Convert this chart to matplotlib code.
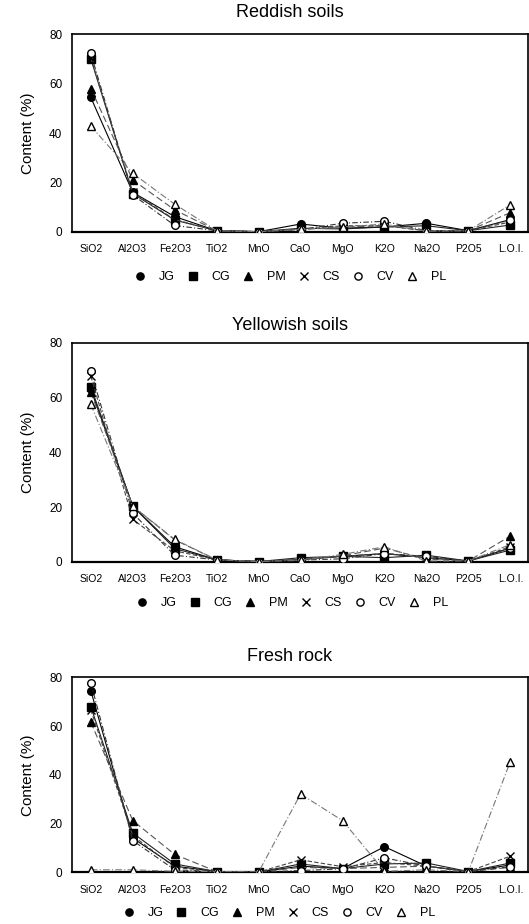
import matplotlib
matplotlib.use("Agg")
import matplotlib.pyplot as plt
from matplotlib.lines import Line2D

plt.rcParams['font.family'] = ['Liberation Sans', 'DejaVu Sans']

oxides = ["SiO2", "Al2O3", "Fe2O3", "TiO2", "MnO", "CaO", "MgO", "K2O", "Na2O", "P2O5", "L.O.I."]
series_names = ["JG", "CG", "PM", "CS", "CV", "PL"]
titles = ["Reddish soils", "Yellowish soils", "Fresh rock"]

# Reddish soils
red_JG = [54.4, 16.0, 6.2, 0.5, 0.1, 3.2, 1.5, 2.0, 3.5, 0.5, 5.0]
red_CG = [70.0, 15.5, 4.8, 0.5, 0.1, 1.5, 1.2, 2.0, 2.5, 0.5, 2.8]
red_PM = [58.0, 21.0, 8.9, 0.5, 0.1, 1.0, 2.0, 2.5, 0.5, 0.5, 7.8]
red_CS = [70.5, 16.0, 5.0, 0.5, 0.1, 1.0, 2.5, 2.5, 0.5, 0.5, 4.0]
red_CV = [72.2, 15.0, 2.6, 0.5, 0.1, 1.0, 3.5, 4.3, 0.5, 0.5, 4.8]
red_PL = [42.8, 23.7, 11.2, 0.5, 0.1, 1.0, 2.0, 3.2, 0.3, 0.5, 11.0]

# Yellowish soils
yel_JG = [63.0, 20.3, 5.5, 0.7, 0.1, 0.8, 2.0, 3.0, 1.5, 0.3, 5.0]
yel_CG = [64.0, 20.3, 4.8, 0.7, 0.1, 1.5, 2.0, 1.5, 2.4, 0.3, 4.3]
yel_PM = [62.0, 20.3, 8.0, 0.7, 0.1, 0.8, 2.2, 5.0, 1.0, 0.3, 9.4]
yel_CS = [67.8, 15.5, 4.0, 0.7, 0.1, 0.8, 2.0, 3.0, 1.5, 0.3, 5.5]
yel_CV = [69.7, 17.7, 2.4, 0.7, 0.1, 0.6, 1.1, 3.0, 2.0, 0.3, 5.0]
yel_PL = [57.5, 20.3, 8.2, 0.7, 0.1, 0.5, 2.7, 5.5, 0.3, 0.3, 6.3]

# Fresh rock
fr_JG = [74.5, 14.0, 2.5, 0.3, 0.1, 2.5, 1.5, 10.5, 2.5, 0.3, 3.0]
fr_CG = [68.0, 16.1, 3.4, 0.3, 0.1, 3.4, 1.5, 3.4, 3.8, 0.3, 3.8]
fr_PM = [61.6, 21.2, 7.3, 0.3, 0.1, 2.0, 1.5, 2.0, 2.5, 0.3, 2.0]
fr_CS = [66.6, 15.0, 2.0, 0.3, 0.1, 5.1, 2.3, 4.0, 2.5, 0.3, 6.6]
fr_CV = [77.7, 13.0, 1.0, 0.3, 0.1, 0.7, 1.4, 5.9, 2.5, 0.3, 2.3]
fr_PL = [1.0, 1.0, 0.4, 0.3, 0.1, 32.1, 21.2, 0.4, 1.0, 0.3, 45.4]

panels = [
    [red_JG, red_CG, red_PM, red_CS, red_CV, red_PL],
    [yel_JG, yel_CG, yel_PM, yel_CS, yel_CV, yel_PL],
    [fr_JG, fr_CG, fr_PM, fr_CS, fr_CV, fr_PL],
]

markers = ['o', 's', '^', 'x', 'o', '^']
mfaces = ['black', 'black', 'black', 'black', 'white', 'white']
msizes = [5.5, 5.5, 5.5, 6, 5.5, 5.5]
lstyles = ['-', '-', (0, (6, 3)), (0, (4, 2)), (0, (5, 2, 1, 2)), (0, (6, 2, 1, 2))]
lcolors = ['black', '#222222', '#555555', '#444444', '#333333', '#777777']

fig = plt.figure(figsize=(5.29, 9.24), dpi=100)

# axes rectangles [left, bottom, width, height] in figure fraction
rects = [
    [0.136, 0.749, 0.862, 0.214],
    [0.136, 0.392, 0.862, 0.237],
    [0.136, 0.056, 0.862, 0.211],
]
title_y = [0.986, 0.648, 0.289]
legend_y = [0.700, 0.347, 0.012]
legend_x = [0.548, 0.552, 0.527]

x = list(range(len(oxides)))
for i, (rect, data) in enumerate(zip(rects, panels)):
    ax = fig.add_axes(rect)
    for j, vals in enumerate(data):
        ax.plot(x, vals, linestyle=lstyles[j], color=lcolors[j], linewidth=0.8,
                marker=markers[j], markerfacecolor=mfaces[j], markeredgecolor='black',
                markersize=msizes[j], markeredgewidth=1.0, zorder=3 + (j == 4 or j == 5))
    ax.set_xlim(-0.45, 10.42)
    ax.set_ylim(0, 80)
    ax.set_yticks([0, 20, 40, 60, 80])
    ax.set_xticks(x)
    ax.set_xticklabels(oxides, fontsize=7.5)
    ax.tick_params(axis='x', length=0, pad=9)
    ax.tick_params(axis='y', length=0, pad=7, labelsize=8.5)
    for s in ax.spines.values():
        s.set_linewidth(1.2)
    ax.spines['bottom'].set_linewidth(1.6)
    ax.set_ylabel("Content (%)", fontsize=11, labelpad=10)
    fig.text(0.548, title_y[i], titles[i], ha='center', va='center', fontsize=13)
    handles = [Line2D([], [], linestyle='none', marker=markers[j], markerfacecolor=mfaces[j],
                      markeredgecolor='black', markersize=5.2, markeredgewidth=1.0)
               for j in range(len(series_names))]
    fig.legend(handles, series_names, loc='center', bbox_to_anchor=(legend_x[i], legend_y[i]),
               ncol=6, frameon=False, fontsize=9, handletextpad=1.0, columnspacing=0.95,
               handlelength=1.0)

fig.savefig("out.png", dpi=100)
